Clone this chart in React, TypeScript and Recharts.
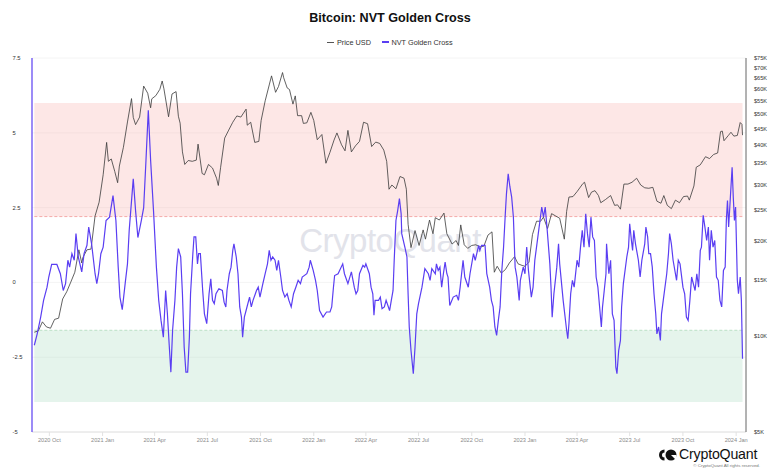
import React from 'react';
import { LineChart, Line, XAxis, YAxis, CartesianGrid, ReferenceArea, ReferenceLine } from 'recharts';

// ---- data ----
const priceUSD: [string, number][] = [
  ['2020-09-05', 10300], ['2020-09-12', 10400], ['2020-09-19', 11100], ['2020-09-26', 10700], ['2020-10-03', 10600],
  ['2020-10-10', 11300], ['2020-10-17', 11400], ['2020-10-24', 13100], ['2020-10-31', 13800], ['2020-11-07', 14800],
  ['2020-11-14', 15900], ['2020-11-21', 18700], ['2020-11-26', 17000], ['2020-11-28', 17700], ['2020-12-05', 18700],
  ['2020-12-12', 18800], ['2020-12-19', 23900], ['2020-12-26', 26400],
  ['2021-01-02', 32200], ['2021-01-08', 40700], ['2021-01-11', 35500], ['2021-01-16', 36100], ['2021-01-22', 33000],
  ['2021-01-27', 30400], ['2021-01-30', 34300], ['2021-02-06', 39300], ['2021-02-13', 47200], ['2021-02-20', 55900],
  ['2021-02-23', 48800], ['2021-02-27', 46300], ['2021-03-06', 48900], ['2021-03-13', 61200], ['2021-03-20', 58100],
  ['2021-03-25', 52300], ['2021-03-27', 55800], ['2021-04-03', 57100], ['2021-04-10', 59800], ['2021-04-14', 63500],
  ['2021-04-17', 60000], ['2021-04-25', 49000], ['2021-05-01', 57800], ['2021-05-08', 58800], ['2021-05-12', 49200],
  ['2021-05-15', 46800], ['2021-05-19', 38000], ['2021-05-23', 34700], ['2021-05-29', 35700], ['2021-06-05', 35500],
  ['2021-06-12', 35800], ['2021-06-15', 40200], ['2021-06-22', 32500], ['2021-06-26', 32200], ['2021-07-03', 34700],
  ['2021-07-10', 33800], ['2021-07-17', 31400], ['2021-07-20', 29800], ['2021-07-24', 34000], ['2021-07-31', 42000],
  ['2021-08-07', 44500], ['2021-08-14', 47100], ['2021-08-21', 49300], ['2021-08-28', 48900], ['2021-09-06', 51800],
  ['2021-09-08', 46100], ['2021-09-14', 47100], ['2021-09-21', 40700], ['2021-09-28', 41000], ['2021-10-02', 47700],
  ['2021-10-09', 55000], ['2021-10-16', 61700], ['2021-10-20', 65900], ['2021-10-27', 58500], ['2021-11-01', 61000],
  ['2021-11-08', 67500], ['2021-11-10', 65000], ['2021-11-16', 60400], ['2021-11-20', 59700], ['2021-11-26', 53700],
  ['2021-11-30', 57000], ['2021-12-04', 49400], ['2021-12-11', 49400], ['2021-12-14', 46700], ['2021-12-20', 46900],
  ['2021-12-27', 50600],
  ['2022-01-01', 47700], ['2022-01-07', 41500], ['2022-01-15', 43100], ['2022-01-22', 35000], ['2022-01-29', 37900],
  ['2022-02-05', 41400], ['2022-02-10', 43600], ['2022-02-18', 40000], ['2022-02-24', 38300], ['2022-03-01', 44400],
  ['2022-03-07', 38000], ['2022-03-14', 39700], ['2022-03-21', 41000], ['2022-03-28', 47100], ['2022-04-04', 46600],
  ['2022-04-11', 39500], ['2022-04-18', 40800], ['2022-04-25', 40400], ['2022-05-02', 38500], ['2022-05-07', 35500],
  ['2022-05-11', 29000], ['2022-05-16', 29900], ['2022-05-23', 29100], ['2022-05-30', 31800], ['2022-06-06', 31400],
  ['2022-06-10', 29000], ['2022-06-13', 22500], ['2022-06-18', 19000], ['2022-06-25', 21500], ['2022-07-02', 19300],
  ['2022-07-09', 21600], ['2022-07-13', 20200], ['2022-07-20', 23200], ['2022-07-26', 21000], ['2022-07-30', 23600],
  ['2022-08-06', 23200], ['2022-08-14', 24400], ['2022-08-19', 21000], ['2022-08-28', 19500], ['2022-09-04', 20000],
  ['2022-09-08', 19300], ['2022-09-12', 22400], ['2022-09-18', 19400], ['2022-09-24', 18900], ['2022-10-01', 19300],
  ['2022-10-08', 19400], ['2022-10-15', 19100], ['2022-10-22', 19200], ['2022-10-29', 20800], ['2022-11-05', 21300],
  ['2022-11-09', 15900], ['2022-11-14', 16600], ['2022-11-21', 15800], ['2022-11-28', 16200], ['2022-12-05', 17000],
  ['2022-12-14', 17800], ['2022-12-20', 16900], ['2022-12-27', 16700],
  ['2023-01-01', 16600], ['2023-01-08', 17100], ['2023-01-14', 20900], ['2023-01-21', 23000], ['2023-01-28', 23000],
  ['2023-02-02', 23700], ['2023-02-09', 21800], ['2023-02-16', 24300], ['2023-02-23', 23900], ['2023-03-02', 23500],
  ['2023-03-10', 20200], ['2023-03-14', 24700], ['2023-03-18', 27400], ['2023-03-25', 27500], ['2023-04-01', 28500],
  ['2023-04-11', 30200], ['2023-04-14', 30500], ['2023-04-21', 27300], ['2023-04-26', 28400], ['2023-05-02', 28700],
  ['2023-05-08', 27700], ['2023-05-12', 26300], ['2023-05-20', 26900], ['2023-05-29', 27700], ['2023-06-05', 25800],
  ['2023-06-10', 25900], ['2023-06-15', 25100], ['2023-06-21', 30100], ['2023-06-28', 30100], ['2023-07-05', 30500],
  ['2023-07-13', 31400], ['2023-07-20', 29900], ['2023-07-27', 29300], ['2023-08-03', 29200], ['2023-08-10', 29400],
  ['2023-08-17', 26600], ['2023-08-24', 26200], ['2023-08-29', 27700], ['2023-09-04', 25800], ['2023-09-11', 25200],
  ['2023-09-18', 26800], ['2023-09-25', 26300], ['2023-10-02', 27500], ['2023-10-09', 27600], ['2023-10-12', 26800],
  ['2023-10-20', 29700], ['2023-10-24', 34000], ['2023-10-31', 34600], ['2023-11-09', 36700], ['2023-11-16', 36200],
  ['2023-11-23', 37300], ['2023-11-30', 37700], ['2023-12-05', 44000], ['2023-12-08', 44200], ['2023-12-11', 41200],
  ['2023-12-18', 42700], ['2023-12-23', 43800], ['2023-12-28', 42600],
  ['2024-01-03', 42800], ['2024-01-08', 47000], ['2024-01-11', 46400], ['2024-01-12', 42900],
];

const nvtGoldenCross: [string, number][] = [
  ['2020-09-05', -2.1], ['2020-09-10', -1.72], ['2020-09-16', -1.16], ['2020-09-21', -0.6], ['2020-09-27', -0.16],
  ['2020-09-30', 0.18], ['2020-10-05', 0.6], ['2020-10-14', 0.6], ['2020-10-20', 0.29], ['2020-10-25', -0.27],
  ['2020-10-29', -0.04], ['2020-11-02', 0.74], ['2020-11-05', 0.51], ['2020-11-09', 0.96], ['2020-11-13', 0.74],
  ['2020-11-16', 1.63], ['2020-11-20', 0.85], ['2020-11-26', 0.35], ['2020-11-30', 0.96], ['2020-12-05', 1.24],
  ['2020-12-08', 1.85], ['2020-12-13', 1.29], ['2020-12-19', 0.29], ['2020-12-22', -0.04], ['2020-12-25', 0.29],
  ['2020-12-29', 0.96],
  ['2021-01-02', 1.18], ['2021-01-07', 2.07], ['2021-01-13', 2.18], ['2021-01-19', 2.9], ['2021-01-24', 2.07],
  ['2021-01-28', 0.51], ['2021-01-31', -0.49], ['2021-02-04', -0.91], ['2021-02-09', -0.04], ['2021-02-13', 0.62],
  ['2021-02-16', 1.74], ['2021-02-23', 3.46], ['2021-02-27', 2.4], ['2021-03-03', 1.5], ['2021-03-09', 2.07],
  ['2021-03-13', 2.5], ['2021-03-17', 4.08], ['2021-03-21', 5.75], ['2021-03-25', 4.08], ['2021-03-30', 2.4],
  ['2021-04-04', 0.51], ['2021-04-08', -0.6], ['2021-04-12', -1.27], ['2021-04-16', -1.83], ['2021-04-20', -0.27],
  ['2021-04-23', -1.05], ['2021-04-26', -2.05], ['2021-04-29', -3.0], ['2021-05-02', -1.6], ['2021-05-06', -0.6],
  ['2021-05-09', 0.51], ['2021-05-12', 1.13], ['2021-05-16', 0.85], ['2021-05-19', -0.38], ['2021-05-22', -2.16],
  ['2021-05-25', -3.0], ['2021-05-28', -3.0], ['2021-05-31', -1.83], ['2021-06-02', -0.38], ['2021-06-06', 0.96],
  ['2021-06-08', 1.52], ['2021-06-11', 1.52], ['2021-06-14', 0.62], ['2021-06-16', 0.96], ['2021-06-19', 0.96],
  ['2021-06-23', -0.27], ['2021-06-26', -1.05], ['2021-06-30', -1.38], ['2021-07-04', -0.38], ['2021-07-07', 0.12],
  ['2021-07-10', -0.6], ['2021-07-13', -0.71], ['2021-07-16', -0.38], ['2021-07-21', -0.21], ['2021-07-27', -0.27],
  ['2021-07-30', -0.66], ['2021-08-02', -0.82], ['2021-08-04', -0.27], ['2021-08-08', 0.29], ['2021-08-11', 0.51],
  ['2021-08-14', 1.07], ['2021-08-16', 1.29], ['2021-08-20', 0.85], ['2021-08-23', 0.29], ['2021-08-26', -0.82],
  ['2021-08-29', -1.16], ['2021-08-31', -1.83], ['2021-09-03', -1.16], ['2021-09-06', -0.94], ['2021-09-12', -0.49],
  ['2021-09-15', -0.82], ['2021-09-18', -0.6], ['2021-09-24', -0.27], ['2021-09-27', -0.16], ['2021-09-30', -0.49],
  ['2021-10-05', -0.04], ['2021-10-09', 0.29], ['2021-10-13', 0.62], ['2021-10-16', 1.07], ['2021-10-19', 0.74],
  ['2021-10-22', 0.85], ['2021-10-26', 0.74], ['2021-10-29', 0.4], ['2021-11-01', 0.74], ['2021-11-05', 0.18],
  ['2021-11-08', -0.27], ['2021-11-12', -0.49], ['2021-11-16', -0.38], ['2021-11-19', -0.6], ['2021-11-23', -0.82],
  ['2021-11-27', -0.38], ['2021-12-01', -0.16], ['2021-12-05', 0.07], ['2021-12-09', -0.04], ['2021-12-12', 0.18],
  ['2021-12-20', 0.29], ['2021-12-24', 0.51], ['2021-12-26', 0.74], ['2021-12-31', 0.4],
  ['2022-01-04', 0.07], ['2022-01-07', -0.27], ['2022-01-11', -0.94], ['2022-01-17', -1.16], ['2022-01-23', -0.99],
  ['2022-01-29', -0.99], ['2022-02-01', -0.82], ['2022-02-04', -0.16], ['2022-02-06', 0.23], ['2022-02-12', 0.29],
  ['2022-02-20', 0.62], ['2022-02-23', 0.29], ['2022-03-01', -0.04], ['2022-03-07', 0.35], ['2022-03-12', -0.16],
  ['2022-03-15', -0.38], ['2022-03-18', -0.27], ['2022-03-21', 0.29], ['2022-03-27', 0.57], ['2022-03-30', 0.51],
  ['2022-04-01', 0.62], ['2022-04-07', 0.29], ['2022-04-10', -0.16], ['2022-04-13', -0.38], ['2022-04-15', -1.1],
  ['2022-04-17', -0.6], ['2022-04-23', -0.6], ['2022-04-26', -0.49], ['2022-04-29', -0.88], ['2022-05-03', -0.82],
  ['2022-05-06', -0.6], ['2022-05-12', -0.94], ['2022-05-15', -0.6], ['2022-05-18', -0.27], ['2022-05-20', 0.74],
  ['2022-05-23', 2.07], ['2022-05-26', 2.4], ['2022-05-29', 2.8], ['2022-06-01', 2.29], ['2022-06-02', 1.63],
  ['2022-06-08', 1.13], ['2022-06-11', 0.85], ['2022-06-13', -0.38], ['2022-06-15', -1.49], ['2022-06-18', -2.27],
  ['2022-06-22', -3.05], ['2022-06-25', -2.16], ['2022-06-28', -1.05], ['2022-07-01', -0.71], ['2022-07-07', -0.16],
  ['2022-07-12', 0.46], ['2022-07-18', 0.29], ['2022-07-21', 0.07], ['2022-07-24', 0.46], ['2022-07-30', 0.29],
  ['2022-08-01', 0.62], ['2022-08-04', 0.4], ['2022-08-07', 0.51], ['2022-08-10', -0.16], ['2022-08-13', 0.29],
  ['2022-08-16', 0.68], ['2022-08-19', 0.29], ['2022-08-21', 0.18], ['2022-08-24', -0.77], ['2022-08-30', -0.49],
  ['2022-09-05', -0.43], ['2022-09-08', -0.6], ['2022-09-11', -0.16], ['2022-09-16', 0.74], ['2022-09-19', 0.18],
  ['2022-09-25', -0.16], ['2022-09-28', 0.29], ['2022-10-04', 0.96], ['2022-10-07', 0.74], ['2022-10-13', 1.24],
  ['2022-10-15', 1.07], ['2022-10-18', 1.24], ['2022-10-24', 1.24], ['2022-10-27', 0.29], ['2022-11-01', -0.16],
  ['2022-11-04', -0.6], ['2022-11-07', -0.82], ['2022-11-10', -1.49], ['2022-11-13', -1.77], ['2022-11-16', -1.27],
  ['2022-11-19', -0.82], ['2022-11-22', 0.4], ['2022-11-25', 1.18], ['2022-11-28', 2.29], ['2022-11-30', 2.96],
  ['2022-12-03', 3.63], ['2022-12-06', 3.19], ['2022-12-09', 2.85], ['2022-12-12', 2.18], ['2022-12-15', 0.51],
  ['2022-12-18', 0.18], ['2022-12-22', -0.6], ['2022-12-24', 0.07], ['2022-12-29', 0.51],
  ['2023-01-01', 0.29], ['2023-01-04', 1.18], ['2023-01-07', 0.4], ['2023-01-12', -0.49], ['2023-01-15', -0.16],
  ['2023-01-18', 0.74], ['2023-01-24', 1.63], ['2023-01-30', 2.52], ['2023-02-02', 2.18], ['2023-02-05', 2.52],
  ['2023-02-08', 1.85], ['2023-02-13', 0.62], ['2023-02-15', -0.16], ['2023-02-17', -1.16], ['2023-02-20', -0.38],
  ['2023-02-25', 0.51], ['2023-02-28', 1.29], ['2023-03-02', 0.62], ['2023-03-08', -0.6], ['2023-03-14', -1.6],
  ['2023-03-16', -1.88], ['2023-03-18', -1.38], ['2023-03-21', -0.38], ['2023-03-24', 0.07], ['2023-03-27', -0.16],
  ['2023-04-01', 0.74], ['2023-04-04', 0.51], ['2023-04-07', 1.18], ['2023-04-10', 1.74], ['2023-04-13', 1.18],
  ['2023-04-16', 2.29], ['2023-04-19', 1.63], ['2023-04-22', 1.18], ['2023-04-25', 2.18], ['2023-04-28', 1.52],
  ['2023-05-01', 1.4], ['2023-05-04', 0.18], ['2023-05-07', -0.16], ['2023-05-10', -0.82], ['2023-05-13', -1.49],
  ['2023-05-15', -0.82], ['2023-05-18', -0.27], ['2023-05-21', 0.29], ['2023-05-22', 1.29], ['2023-05-24', 0.74],
  ['2023-05-26', 0.29], ['2023-05-29', 0.74], ['2023-06-01', -1.05], ['2023-06-04', -1.27], ['2023-06-07', -2.83],
  ['2023-06-09', -3.05], ['2023-06-12', -2.27], ['2023-06-15', -1.94], ['2023-06-17', -0.82], ['2023-06-20', -0.04],
  ['2023-06-26', 0.85], ['2023-06-29', 1.18], ['2023-07-01', 1.96], ['2023-07-04', 1.4], ['2023-07-06', 1.07],
  ['2023-07-08', 1.74], ['2023-07-11', 1.29], ['2023-07-16', 0.74], ['2023-07-19', 0.18], ['2023-07-22', 0.74],
  ['2023-07-27', 1.29], ['2023-07-29', 1.85], ['2023-08-01', 1.52], ['2023-08-03', 0.96], ['2023-08-06', 0.96],
  ['2023-08-09', 0.51], ['2023-08-12', -0.38], ['2023-08-15', -1.05], ['2023-08-17', -1.72], ['2023-08-20', -1.49],
  ['2023-08-23', -1.94], ['2023-08-25', -1.05], ['2023-08-28', -0.6], ['2023-09-03', 0.29], ['2023-09-06', 0.96],
  ['2023-09-08', 1.63], ['2023-09-11', 1.29], ['2023-09-14', 0.74], ['2023-09-20', 0.07], ['2023-09-23', 0.74],
  ['2023-09-26', 0.62], ['2023-10-01', -0.16], ['2023-10-04', -0.38], ['2023-10-07', -1.16], ['2023-10-10', -1.27],
  ['2023-10-13', -0.6], ['2023-10-16', 0.18], ['2023-10-22', -0.27], ['2023-10-25', 0.29], ['2023-10-28', -0.16],
  ['2023-10-31', 1.07], ['2023-11-02', 1.18], ['2023-11-05', 2.24], ['2023-11-08', 1.85], ['2023-11-11', 1.4],
  ['2023-11-14', 1.85], ['2023-11-16', 0.74], ['2023-11-19', 1.74], ['2023-11-22', 1.18], ['2023-11-25', 1.4],
  ['2023-11-28', 0.18], ['2023-12-01', 0.07], ['2023-12-04', -0.6], ['2023-12-07', -0.82], ['2023-12-10', 0.4],
  ['2023-12-13', 0.51], ['2023-12-15', 2.07], ['2023-12-17', 2.74], ['2023-12-19', 1.85], ['2023-12-22', 2.85],
  ['2023-12-25', 3.85], ['2023-12-27', 2.85], ['2023-12-29', 2.07], ['2023-12-31', 2.52],
  ['2024-01-03', 0.07], ['2024-01-05', -0.38], ['2024-01-08', 0.18], ['2024-01-10', -0.6], ['2024-01-12', -2.55],
];

const xTickDates = [
  '2020-10-01', '2021-01-01', '2021-04-01', '2021-07-01', '2021-10-01', '2022-01-01', '2022-04-01',
  '2022-07-01', '2022-10-01', '2023-01-01', '2023-04-01', '2023-07-01', '2023-10-01', '2024-01-01',
];
const xDomainDates = ['2020-09-01', '2024-01-18'];
const leftTicks = [-5, -2.5, 0, 2.5, 5, 7.5];
const rightTicks = [5000, 10000, 15000, 20000, 25000, 30000, 35000, 40000, 45000, 50000, 55000, 60000, 65000, 70000, 75000];
const overheatedBand = [2.2, 6];
const undervaluedBand = [-4, -1.6];
const monthNames = ['Jan', 'Feb', 'Mar', 'Apr', 'May', 'Jun', 'Jul', 'Aug', 'Sep', 'Oct', 'Nov', 'Dec'];

// ---- derived ----
const ts = (s: string) => Date.parse(s + 'T00:00:00Z');
const priceData = priceUSD.map(([d, v]) => ({ t: ts(d), price: v }));
const nvtData = nvtGoldenCross.map(([d, v]) => ({ t: ts(d), nvt: v }));
const xTicks = xTickDates.map(ts);
const dataStart = nvtData[0].t;
const dataEnd = nvtData[nvtData.length - 1].t;

const FONT = '"Liberation Sans", Arial, Helvetica, sans-serif';
const BLUE = '#5a3ef2';

const fmtDate = (v: number) => {
  const d = new Date(v);
  return `${d.getUTCFullYear()} ${monthNames[d.getUTCMonth()]}`;
};

const LeftTick = (props: any) => {
  const { y, payload } = props;
  return (
    <text x={12.5} y={y} dy={2} fontSize={5.8} fill="#333" textAnchor="start" fontFamily={FONT}>
      {payload.value}
    </text>
  );
};

export default function App() {
  return (
    <div style={{ position: 'absolute', left: 0, top: 0, width: 780, height: 470, background: '#fff', fontFamily: FONT, overflow: 'hidden' }}>
      {/* watermark */}
      <div style={{ position: 'absolute', left: 0, width: 780, top: 222, textAlign: 'center', fontSize: 33, lineHeight: '38px', color: '#e2e3ea', fontWeight: 500, letterSpacing: -0.5 }}>
        CryptoQuant
      </div>
      {/* title */}
      <div style={{ position: 'absolute', left: 0, width: 780, top: 11, height: 14, lineHeight: '14px', textAlign: 'center', fontWeight: 700, fontSize: 12.6, color: '#111' }}>
        Bitcoin: NVT Golden Cross
      </div>
      {/* legend */}
      <div style={{ position: 'absolute', left: 0, width: 780, top: 37, height: 10, display: 'flex', justifyContent: 'center', alignItems: 'center', fontSize: 7.3, color: '#333' }}>
        <span style={{ display: 'inline-block', width: 7, height: 1, background: '#555', marginRight: 2.5 }} />
        <span style={{ marginRight: 11 }}>Price USD</span>
        <span style={{ display: 'inline-block', width: 7, height: 1.3, background: BLUE, marginRight: 2.5 }} />
        <span>NVT Golden Cross</span>
      </div>

      <div style={{ position: 'absolute', left: 0, top: 0 }}>
        <LineChart width={780} height={470} margin={{ top: 58, right: 0, bottom: 8, left: 0 }}>
          <CartesianGrid yAxisId="left" vertical={false} stroke="#f1f1f1" strokeWidth={0.8} />
          <XAxis
            dataKey="t"
            type="number"
            domain={xDomainDates.map(ts)}
            ticks={xTicks}
            tickFormatter={fmtDate}
            allowDataOverflow
            height={30}
            stroke="#e2e2e2"
            tickSize={4}
            tick={{ fontSize: 5.6, fill: '#8a8a8a', fontFamily: FONT }}
            interval={0}
          />
          <YAxis
            yAxisId="left"
            orientation="left"
            width={32}
            domain={[-5, 7.5]}
            ticks={leftTicks}
            allowDataOverflow
            axisLine={{ stroke: BLUE, strokeWidth: 1.2 }}
            tickLine={false}
            tick={<LeftTick />}
            interval={0}
          />
          <YAxis
            yAxisId="right"
            orientation="right"
            width={34}
            scale="log"
            domain={[5000, 75000]}
            ticks={rightTicks}
            allowDataOverflow
            axisLine={{ stroke: '#666', strokeWidth: 1 }}
            tickLine={false}
            tickFormatter={(v: number) => `$${v / 1000}K`}
            tick={{ fontSize: 5.6, fill: '#333', fontFamily: FONT }}
            interval={0}
          />
          <ReferenceArea yAxisId="left" x1={dataStart} x2={dataEnd} y1={overheatedBand[0]} y2={overheatedBand[1]} fill="#f7aaa5" fillOpacity={0.28} stroke="none" />
          <ReferenceArea yAxisId="left" x1={dataStart} x2={dataEnd} y1={undervaluedBand[0]} y2={undervaluedBand[1]} fill="#9fd6b7" fillOpacity={0.27} stroke="none" />
          <ReferenceLine yAxisId="left" segment={[{ x: dataStart, y: overheatedBand[0] }, { x: dataEnd, y: overheatedBand[0] }]} stroke="#f3a3a0" strokeDasharray="3 2" strokeWidth={0.9} />
          <ReferenceLine yAxisId="left" segment={[{ x: dataStart, y: undervaluedBand[1] }, { x: dataEnd, y: undervaluedBand[1] }]} stroke="#b4dcbf" strokeDasharray="3 2" strokeWidth={0.9} />
          <Line data={priceData} yAxisId="right" dataKey="price" type="linear" stroke="#3a3a3a" strokeWidth={0.8} dot={false} isAnimationActive={false} />
          <Line data={nvtData} yAxisId="left" dataKey="nvt" type="linear" stroke={BLUE} strokeWidth={1.2} dot={false} isAnimationActive={false} />
        </LineChart>
      </div>

      {/* brand logo bottom-right */}
      <svg style={{ position: 'absolute', left: 657, top: 447 }} width={22} height={16}>
        <path d="M7.5 2.5 A5.5 5.5 0 0 0 7.5 13.5 L7.5 10.5 A2.5 2.5 0 0 1 7.5 5.5 Z" fill="#111" />
        <circle cx={14} cy={8} r={5.5} fill="#111" />
        <path d="M14 8 L19.5 8 L19.5 13.5 Z" fill="#fff" />
      </svg>
      <div style={{ position: 'absolute', left: 679, top: 446, fontSize: 14.2, lineHeight: '17px', color: '#111', letterSpacing: -0.2 }}>
        CryptoQuant
      </div>
      <div style={{ position: 'absolute', right: 20, top: 463, fontSize: 4.4, lineHeight: '6px', color: '#777' }}>
        © CryptoQuant All rights reserved.
      </div>
    </div>
  );
}
